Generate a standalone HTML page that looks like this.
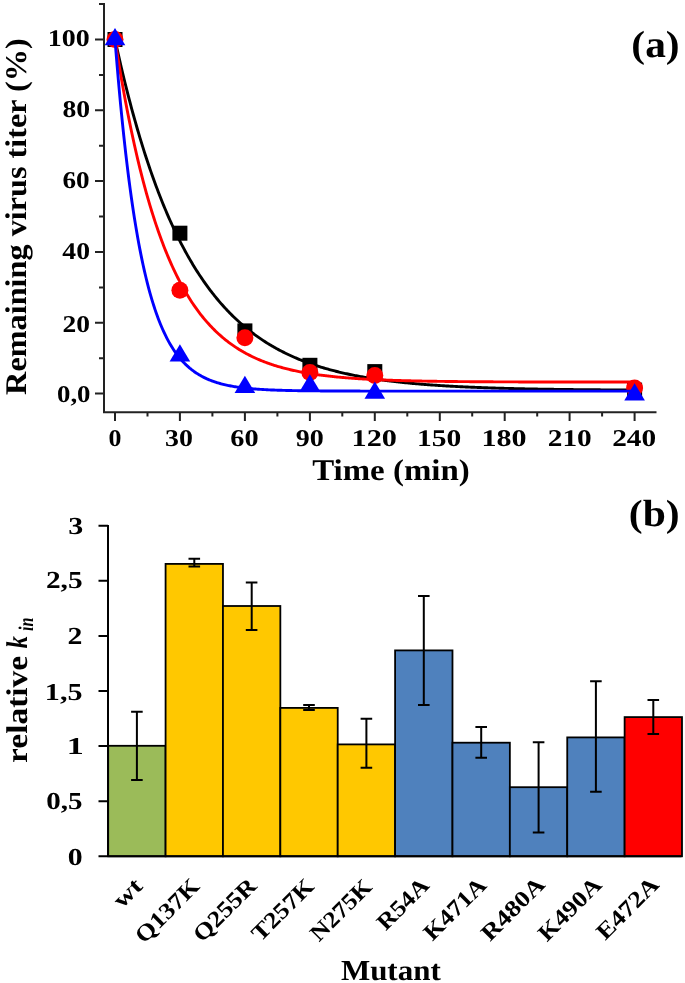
<!DOCTYPE html>
<html><head><meta charset="utf-8"><style>
html,body{margin:0;padding:0;background:#fff;}
body{width:685px;height:983px;overflow:hidden;}
svg{display:block;will-change:transform;}
text{fill:#000;text-rendering:geometricPrecision;}
</style></head><body>
<svg width="685" height="983" viewBox="0 0 685 983">
<path d="M104.0,3 V413.2 M103.0,412.2 H656.5" stroke="#222" stroke-width="2" fill="none"/>
<path d="M95,393.6 H104.0 M99,358.2 H104.0 M95,322.8 H104.0 M99,287.4 H104.0 M95,252.0 H104.0 M99,216.6 H104.0 M95,181.1 H104.0 M99,145.7 H104.0 M95,110.3 H104.0 M99,74.9 H104.0 M95,39.5 H104.0 M99,4.1 H104.0 M115.0,412.2 V421 M147.5,412.2 V416.5 M179.9,412.2 V421 M212.4,412.2 V416.5 M244.9,412.2 V421 M277.4,412.2 V416.5 M309.9,412.2 V421 M342.3,412.2 V416.5 M374.8,412.2 V421 M407.3,412.2 V416.5 M439.8,412.2 V421 M472.2,412.2 V416.5 M504.7,412.2 V421 M537.2,412.2 V416.5 M569.6,412.2 V421 M602.1,412.2 V416.5 M634.6,412.2 V421" stroke="#222" stroke-width="2" fill="none"/>
<polyline points="115.00,39.50 116.08,44.47 117.17,49.36 118.25,54.19 119.33,58.94 120.41,63.63 121.50,68.26 122.58,72.81 123.66,77.31 124.74,81.74 125.83,86.11 126.91,90.41 127.99,94.66 129.07,98.84 130.16,102.97 131.24,107.03 132.32,111.04 133.40,115.00 134.49,118.89 135.57,122.73 136.65,126.52 137.73,130.26 138.81,133.94 139.90,137.57 140.98,141.14 142.06,144.67 143.15,148.15 144.23,151.57 145.31,154.95 146.39,158.29 147.47,161.57 148.56,164.81 149.64,168.00 150.72,171.15 151.81,174.25 152.89,177.31 153.97,180.32 155.05,183.30 156.13,186.23 157.22,189.11 158.30,191.96 159.38,194.77 160.47,197.54 161.55,200.27 162.63,202.96 163.71,205.61 164.80,208.23 165.88,210.80 166.96,213.34 168.04,215.85 169.12,218.32 170.21,220.75 171.29,223.15 172.37,225.52 173.46,227.85 174.54,230.15 175.62,232.42 176.70,234.66 177.78,236.86 178.87,239.03 179.95,241.18 181.03,243.29 182.12,245.37 183.20,247.42 184.28,249.44 185.36,251.44 186.44,253.41 187.53,255.34 188.61,257.25 189.69,259.14 190.78,261.00 191.86,262.83 192.94,264.63 194.02,266.41 195.11,268.17 196.19,269.90 197.27,271.60 198.35,273.28 199.44,274.94 200.52,276.57 201.60,278.18 202.68,279.77 203.77,281.34 204.85,282.88 205.93,284.40 207.01,285.90 208.09,287.38 209.18,288.84 210.26,290.28 211.34,291.69 212.43,293.09 213.51,294.47 214.59,295.82 215.67,297.16 216.75,298.48 217.84,299.78 218.92,301.07 220.00,302.33 221.09,303.58 222.17,304.80 223.25,306.02 224.33,307.21 225.42,308.39 226.50,309.55 227.58,310.69 228.66,311.82 229.75,312.93 230.83,314.03 231.91,315.11 232.99,316.17 234.07,317.22 235.16,318.26 236.24,319.28 237.32,320.29 238.41,321.28 239.49,322.26 240.57,323.22 241.65,324.17 242.74,325.11 243.82,326.03 244.90,326.94 245.98,327.84 247.06,328.73 248.15,329.60 249.23,330.46 250.31,331.31 251.40,332.15 252.48,332.97 253.56,333.78 254.64,334.58 255.72,335.37 256.81,336.15 257.89,336.92 258.97,337.68 260.06,338.42 261.14,339.16 262.22,339.88 263.30,340.60 264.38,341.30 265.47,342.00 266.55,342.68 267.63,343.36 268.72,344.03 269.80,344.68 270.88,345.33 271.96,345.97 273.05,346.60 274.13,347.22 275.21,347.83 276.29,348.43 277.38,349.02 278.46,349.61 279.54,350.19 280.62,350.76 281.71,351.32 282.79,351.87 283.87,352.41 284.95,352.95 286.03,353.48 287.12,354.01 288.20,354.52 289.28,355.03 290.37,355.53 291.45,356.02 292.53,356.51 293.61,356.99 294.70,357.46 295.78,357.93 296.86,358.39 297.94,358.84 299.02,359.29 300.11,359.73 301.19,360.16 302.27,360.59 303.36,361.01 304.44,361.43 305.52,361.84 306.60,362.24 307.69,362.64 308.77,363.03 309.85,363.42 310.93,363.80 312.01,364.18 313.10,364.55 314.18,364.92 315.26,365.28 316.35,365.63 317.43,365.98 318.51,366.33 319.59,366.67 320.68,367.01 321.76,367.34 322.84,367.66 323.92,367.99 325.00,368.30 326.09,368.62 327.17,368.92 328.25,369.23 329.34,369.53 330.42,369.82 331.50,370.11 332.58,370.40 333.67,370.69 334.75,370.96 335.83,371.24 336.91,371.51 338.00,371.78 339.08,372.04 340.16,372.30 341.24,372.56 342.32,372.81 343.41,373.06 344.49,373.31 345.57,373.55 346.66,373.79 347.74,374.02 348.82,374.25 349.90,374.48 350.99,374.71 352.07,374.93 353.15,375.15 354.23,375.36 355.32,375.58 356.40,375.79 357.48,375.99 358.56,376.20 359.64,376.40 360.73,376.60 361.81,376.79 362.89,376.99 363.98,377.18 365.06,377.36 366.14,377.55 367.22,377.73 368.31,377.91 369.39,378.09 370.47,378.26 371.55,378.43 372.63,378.60 373.72,378.77 374.80,378.93 375.88,379.10 376.97,379.26 378.05,379.41 379.13,379.57 380.21,379.72 381.30,379.87 382.38,380.02 383.46,380.17 384.54,380.32 385.62,380.46 386.71,380.60 387.79,380.74 388.87,380.88 389.95,381.01 391.04,381.14 392.12,381.27 393.20,381.40 394.29,381.53 395.37,381.66 396.45,381.78 397.53,381.90 398.62,382.02 399.70,382.14 400.78,382.26 401.86,382.37 402.94,382.49 404.03,382.60 405.11,382.71 406.19,382.82 407.27,382.93 408.36,383.03 409.44,383.14 410.52,383.24 411.60,383.34 412.69,383.44 413.77,383.54 414.85,383.64 415.94,383.73 417.02,383.83 418.10,383.92 419.18,384.01 420.27,384.10 421.35,384.19 422.43,384.28 423.51,384.37 424.60,384.45 425.68,384.54 426.76,384.62 427.84,384.70 428.93,384.78 430.01,384.86 431.09,384.94 432.17,385.02 433.25,385.10 434.34,385.17 435.42,385.24 436.50,385.32 437.59,385.39 438.67,385.46 439.75,385.53 440.83,385.60 441.92,385.67 443.00,385.74 444.08,385.80 445.16,385.87 446.25,385.93 447.33,385.99 448.41,386.06 449.49,386.12 450.57,386.18 451.66,386.24 452.74,386.30 453.82,386.36 454.90,386.41 455.99,386.47 457.07,386.53 458.15,386.58 459.24,386.64 460.32,386.69 461.40,386.74 462.48,386.79 463.56,386.84 464.65,386.90 465.73,386.95 466.81,386.99 467.90,387.04 468.98,387.09 470.06,387.14 471.14,387.18 472.23,387.23 473.31,387.27 474.39,387.32 475.47,387.36 476.56,387.41 477.64,387.45 478.72,387.49 479.80,387.53 480.89,387.57 481.97,387.61 483.05,387.65 484.13,387.69 485.22,387.73 486.30,387.77 487.38,387.81 488.46,387.84 489.55,387.88 490.63,387.91 491.71,387.95 492.79,387.98 493.88,388.02 494.96,388.05 496.04,388.09 497.12,388.12 498.20,388.15 499.29,388.18 500.37,388.22 501.45,388.25 502.54,388.28 503.62,388.31 504.70,388.34 505.78,388.37 506.87,388.40 507.95,388.42 509.03,388.45 510.11,388.48 511.19,388.51 512.28,388.53 513.36,388.56 514.44,388.59 515.52,388.61 516.61,388.64 517.69,388.66 518.77,388.69 519.86,388.71 520.94,388.74 522.02,388.76 523.10,388.78 524.19,388.81 525.27,388.83 526.35,388.85 527.43,388.87 528.52,388.90 529.60,388.92 530.68,388.94 531.76,388.96 532.85,388.98 533.93,389.00 535.01,389.02 536.09,389.04 537.17,389.06 538.26,389.08 539.34,389.10 540.42,389.12 541.51,389.13 542.59,389.15 543.67,389.17 544.75,389.19 545.84,389.21 546.92,389.22 548.00,389.24 549.08,389.26 550.16,389.27 551.25,389.29 552.33,389.30 553.41,389.32 554.50,389.34 555.58,389.35 556.66,389.37 557.74,389.38 558.83,389.39 559.91,389.41 560.99,389.42 562.07,389.44 563.15,389.45 564.24,389.46 565.32,389.48 566.40,389.49 567.49,389.50 568.57,389.52 569.65,389.53 570.73,389.54 571.82,389.55 572.90,389.57 573.98,389.58 575.06,389.59 576.14,389.60 577.23,389.61 578.31,389.63 579.39,389.64 580.48,389.65 581.56,389.66 582.64,389.67 583.72,389.68 584.81,389.69 585.89,389.70 586.97,389.71 588.05,389.72 589.13,389.73 590.22,389.74 591.30,389.75 592.38,389.76 593.47,389.77 594.55,389.78 595.63,389.79 596.71,389.79 597.80,389.80 598.88,389.81 599.96,389.82 601.04,389.83 602.12,389.84 603.21,389.85 604.29,389.85 605.37,389.86 606.46,389.87 607.54,389.88 608.62,389.88 609.70,389.89 610.79,389.90 611.87,389.91 612.95,389.91 614.03,389.92 615.12,389.93 616.20,389.93 617.28,389.94 618.36,389.95 619.44,389.95 620.53,389.96 621.61,389.97 622.69,389.97 623.77,389.98 624.86,389.99 625.94,389.99 627.02,390.00 628.11,390.00 629.19,390.01 630.27,390.02 631.35,390.02 632.44,390.03 633.52,390.03 634.60,390.04" fill="none" stroke="#000" stroke-width="2.9" stroke-linejoin="round"/>
<rect x="107.5" y="32.0" width="15" height="15" fill="#000"/>
<rect x="172.4" y="225.7" width="15" height="15" fill="#000"/>
<rect x="237.4" y="323.4" width="15" height="15" fill="#000"/>
<rect x="302.4" y="357.8" width="15" height="15" fill="#000"/>
<rect x="367.3" y="364.1" width="15" height="15" fill="#000"/>
<rect x="627.1" y="382.6" width="15" height="15" fill="#000"/>
<polyline points="115.00,39.50 116.08,46.45 117.17,53.26 118.25,59.93 119.33,66.47 120.41,72.88 121.50,79.15 122.58,85.30 123.66,91.32 124.74,97.22 125.83,103.00 126.91,108.66 127.99,114.21 129.07,119.65 130.16,124.97 131.24,130.19 132.32,135.30 133.40,140.31 134.49,145.22 135.57,150.02 136.65,154.73 137.73,159.34 138.81,163.86 139.90,168.29 140.98,172.63 142.06,176.88 143.15,181.04 144.23,185.12 145.31,189.12 146.39,193.04 147.47,196.87 148.56,200.63 149.64,204.31 150.72,207.92 151.81,211.45 152.89,214.92 153.97,218.31 155.05,221.63 156.13,224.89 157.22,228.08 158.30,231.20 159.38,234.27 160.47,237.26 161.55,240.20 162.63,243.08 163.71,245.90 164.80,248.67 165.88,251.37 166.96,254.03 168.04,256.63 169.12,259.17 170.21,261.67 171.29,264.11 172.37,266.50 173.46,268.85 174.54,271.15 175.62,273.40 176.70,275.60 177.78,277.76 178.87,279.88 179.95,281.95 181.03,283.99 182.12,285.98 183.20,287.93 184.28,289.84 185.36,291.71 186.44,293.54 187.53,295.34 188.61,297.10 189.69,298.83 190.78,300.52 191.86,302.17 192.94,303.79 194.02,305.38 195.11,306.94 196.19,308.46 197.27,309.96 198.35,311.42 199.44,312.85 200.52,314.26 201.60,315.64 202.68,316.98 203.77,318.31 204.85,319.60 205.93,320.87 207.01,322.11 208.09,323.33 209.18,324.52 210.26,325.69 211.34,326.83 212.43,327.95 213.51,329.05 214.59,330.13 215.67,331.18 216.75,332.22 217.84,333.23 218.92,334.22 220.00,335.19 221.09,336.14 222.17,337.07 223.25,337.99 224.33,338.88 225.42,339.76 226.50,340.62 227.58,341.46 228.66,342.28 229.75,343.09 230.83,343.88 231.91,344.66 232.99,345.42 234.07,346.16 235.16,346.89 236.24,347.61 237.32,348.31 238.41,348.99 239.49,349.66 240.57,350.32 241.65,350.97 242.74,351.60 243.82,352.22 244.90,352.82 245.98,353.42 247.06,354.00 248.15,354.57 249.23,355.13 250.31,355.67 251.40,356.21 252.48,356.74 253.56,357.25 254.64,357.75 255.72,358.25 256.81,358.73 257.89,359.21 258.97,359.67 260.06,360.12 261.14,360.57 262.22,361.01 263.30,361.44 264.38,361.85 265.47,362.26 266.55,362.67 267.63,363.06 268.72,363.45 269.80,363.83 270.88,364.20 271.96,364.56 273.05,364.92 274.13,365.26 275.21,365.61 276.29,365.94 277.38,366.27 278.46,366.59 279.54,366.90 280.62,367.21 281.71,367.51 282.79,367.81 283.87,368.10 284.95,368.38 286.03,368.66 287.12,368.93 288.20,369.20 289.28,369.46 290.37,369.72 291.45,369.97 292.53,370.22 293.61,370.46 294.70,370.69 295.78,370.92 296.86,371.15 297.94,371.37 299.02,371.59 300.11,371.80 301.19,372.01 302.27,372.22 303.36,372.42 304.44,372.61 305.52,372.81 306.60,372.99 307.69,373.18 308.77,373.36 309.85,373.54 310.93,373.71 312.01,373.88 313.10,374.05 314.18,374.21 315.26,374.37 316.35,374.53 317.43,374.68 318.51,374.83 319.59,374.98 320.68,375.12 321.76,375.26 322.84,375.40 323.92,375.54 325.00,375.67 326.09,375.80 327.17,375.93 328.25,376.05 329.34,376.18 330.42,376.30 331.50,376.41 332.58,376.53 333.67,376.64 334.75,376.75 335.83,376.86 336.91,376.97 338.00,377.07 339.08,377.17 340.16,377.27 341.24,377.37 342.32,377.47 343.41,377.56 344.49,377.65 345.57,377.74 346.66,377.83 347.74,377.92 348.82,378.00 349.90,378.08 350.99,378.17 352.07,378.25 353.15,378.32 354.23,378.40 355.32,378.48 356.40,378.55 357.48,378.62 358.56,378.69 359.64,378.76 360.73,378.83 361.81,378.89 362.89,378.96 363.98,379.02 365.06,379.08 366.14,379.15 367.22,379.21 368.31,379.26 369.39,379.32 370.47,379.38 371.55,379.43 372.63,379.49 373.72,379.54 374.80,379.59 375.88,379.64 376.97,379.69 378.05,379.74 379.13,379.79 380.21,379.83 381.30,379.88 382.38,379.93 383.46,379.97 384.54,380.01 385.62,380.05 386.71,380.10 387.79,380.14 388.87,380.18 389.95,380.22 391.04,380.25 392.12,380.29 393.20,380.33 394.29,380.36 395.37,380.40 396.45,380.43 397.53,380.47 398.62,380.50 399.70,380.53 400.78,380.56 401.86,380.59 402.94,380.62 404.03,380.65 405.11,380.68 406.19,380.71 407.27,380.74 408.36,380.77 409.44,380.79 410.52,380.82 411.60,380.85 412.69,380.87 413.77,380.90 414.85,380.92 415.94,380.94 417.02,380.97 418.10,380.99 419.18,381.01 420.27,381.03 421.35,381.06 422.43,381.08 423.51,381.10 424.60,381.12 425.68,381.14 426.76,381.16 427.84,381.18 428.93,381.19 430.01,381.21 431.09,381.23 432.17,381.25 433.25,381.27 434.34,381.28 435.42,381.30 436.50,381.31 437.59,381.33 438.67,381.35 439.75,381.36 440.83,381.38 441.92,381.39 443.00,381.40 444.08,381.42 445.16,381.43 446.25,381.45 447.33,381.46 448.41,381.47 449.49,381.48 450.57,381.50 451.66,381.51 452.74,381.52 453.82,381.53 454.90,381.54 455.99,381.55 457.07,381.57 458.15,381.58 459.24,381.59 460.32,381.60 461.40,381.61 462.48,381.62 463.56,381.63 464.65,381.64 465.73,381.64 466.81,381.65 467.90,381.66 468.98,381.67 470.06,381.68 471.14,381.69 472.23,381.70 473.31,381.70 474.39,381.71 475.47,381.72 476.56,381.73 477.64,381.74 478.72,381.74 479.80,381.75 480.89,381.76 481.97,381.76 483.05,381.77 484.13,381.78 485.22,381.78 486.30,381.79 487.38,381.80 488.46,381.80 489.55,381.81 490.63,381.81 491.71,381.82 492.79,381.82 493.88,381.83 494.96,381.83 496.04,381.84 497.12,381.85 498.20,381.85 499.29,381.86 500.37,381.86 501.45,381.86 502.54,381.87 503.62,381.87 504.70,381.88 505.78,381.88 506.87,381.89 507.95,381.89 509.03,381.89 510.11,381.90 511.19,381.90 512.28,381.91 513.36,381.91 514.44,381.91 515.52,381.92 516.61,381.92 517.69,381.92 518.77,381.93 519.86,381.93 520.94,381.93 522.02,381.94 523.10,381.94 524.19,381.94 525.27,381.95 526.35,381.95 527.43,381.95 528.52,381.96 529.60,381.96 530.68,381.96 531.76,381.96 532.85,381.97 533.93,381.97 535.01,381.97 536.09,381.97 537.17,381.98 538.26,381.98 539.34,381.98 540.42,381.98 541.51,381.99 542.59,381.99 543.67,381.99 544.75,381.99 545.84,381.99 546.92,382.00 548.00,382.00 549.08,382.00 550.16,382.00 551.25,382.00 552.33,382.01 553.41,382.01 554.50,382.01 555.58,382.01 556.66,382.01 557.74,382.01 558.83,382.02 559.91,382.02 560.99,382.02 562.07,382.02 563.15,382.02 564.24,382.02 565.32,382.02 566.40,382.03 567.49,382.03 568.57,382.03 569.65,382.03 570.73,382.03 571.82,382.03 572.90,382.03 573.98,382.03 575.06,382.04 576.14,382.04 577.23,382.04 578.31,382.04 579.39,382.04 580.48,382.04 581.56,382.04 582.64,382.04 583.72,382.04 584.81,382.04 585.89,382.05 586.97,382.05 588.05,382.05 589.13,382.05 590.22,382.05 591.30,382.05 592.38,382.05 593.47,382.05 594.55,382.05 595.63,382.05 596.71,382.05 597.80,382.06 598.88,382.06 599.96,382.06 601.04,382.06 602.12,382.06 603.21,382.06 604.29,382.06 605.37,382.06 606.46,382.06 607.54,382.06 608.62,382.06 609.70,382.06 610.79,382.06 611.87,382.06 612.95,382.06 614.03,382.06 615.12,382.07 616.20,382.07 617.28,382.07 618.36,382.07 619.44,382.07 620.53,382.07 621.61,382.07 622.69,382.07 623.77,382.07 624.86,382.07 625.94,382.07 627.02,382.07 628.11,382.07 629.19,382.07 630.27,382.07 631.35,382.07 632.44,382.07 633.52,382.07 634.60,382.07" fill="none" stroke="#f00" stroke-width="2.9" stroke-linejoin="round"/>
<circle cx="115.0" cy="39.5" r="8.5" fill="#f00"/>
<circle cx="179.9" cy="290.2" r="8.5" fill="#f00"/>
<circle cx="244.9" cy="337.7" r="8.5" fill="#f00"/>
<circle cx="309.9" cy="372.4" r="8.5" fill="#f00"/>
<circle cx="374.8" cy="375.5" r="8.5" fill="#f00"/>
<circle cx="634.6" cy="387.9" r="8.5" fill="#f00"/>
<polyline points="115.00,39.50 116.08,53.12 117.17,66.21 118.25,78.79 119.33,90.89 120.41,102.52 121.50,113.70 122.58,124.44 123.66,134.77 124.74,144.70 125.83,154.24 126.91,163.42 127.99,172.23 129.07,180.71 130.16,188.86 131.24,196.69 132.32,204.22 133.40,211.46 134.49,218.42 135.57,225.11 136.65,231.54 137.73,237.72 138.81,243.66 139.90,249.37 140.98,254.86 142.06,260.14 143.15,265.21 144.23,270.09 145.31,274.78 146.39,279.28 147.47,283.61 148.56,287.78 149.64,291.78 150.72,295.63 151.81,299.33 152.89,302.88 153.97,306.30 155.05,309.58 156.13,312.74 157.22,315.78 158.30,318.70 159.38,321.50 160.47,324.20 161.55,326.79 162.63,329.28 163.71,331.68 164.80,333.98 165.88,336.19 166.96,338.32 168.04,340.36 169.12,342.33 170.21,344.22 171.29,346.04 172.37,347.78 173.46,349.46 174.54,351.07 175.62,352.63 176.70,354.12 177.78,355.55 178.87,356.93 179.95,358.25 181.03,359.52 182.12,360.75 183.20,361.92 184.28,363.06 185.36,364.14 186.44,365.19 187.53,366.19 188.61,367.16 189.69,368.09 190.78,368.98 191.86,369.84 192.94,370.66 194.02,371.45 195.11,372.21 196.19,372.95 197.27,373.65 198.35,374.33 199.44,374.98 200.52,375.60 201.60,376.20 202.68,376.78 203.77,377.34 204.85,377.87 205.93,378.38 207.01,378.88 208.09,379.35 209.18,379.81 210.26,380.25 211.34,380.67 212.43,381.07 213.51,381.46 214.59,381.83 215.67,382.19 216.75,382.54 217.84,382.87 218.92,383.19 220.00,383.50 221.09,383.79 222.17,384.08 223.25,384.35 224.33,384.61 225.42,384.87 226.50,385.11 227.58,385.34 228.66,385.56 229.75,385.78 230.83,385.99 231.91,386.19 232.99,386.38 234.07,386.56 235.16,386.74 236.24,386.91 237.32,387.07 238.41,387.23 239.49,387.38 240.57,387.52 241.65,387.66 242.74,387.80 243.82,387.92 244.90,388.05 245.98,388.17 247.06,388.28 248.15,388.39 249.23,388.50 250.31,388.60 251.40,388.70 252.48,388.79 253.56,388.88 254.64,388.97 255.72,389.05 256.81,389.13 257.89,389.21 258.97,389.28 260.06,389.35 261.14,389.42 262.22,389.49 263.30,389.55 264.38,389.61 265.47,389.67 266.55,389.73 267.63,389.78 268.72,389.83 269.80,389.88 270.88,389.93 271.96,389.98 273.05,390.02 274.13,390.06 275.21,390.10 276.29,390.14 277.38,390.18 278.46,390.22 279.54,390.25 280.62,390.29 281.71,390.32 282.79,390.35 283.87,390.38 284.95,390.41 286.03,390.44 287.12,390.46 288.20,390.49 289.28,390.51 290.37,390.54 291.45,390.56 292.53,390.58 293.61,390.60 294.70,390.62 295.78,390.64 296.86,390.66 297.94,390.68 299.02,390.69 300.11,390.71 301.19,390.73 302.27,390.74 303.36,390.76 304.44,390.77 305.52,390.78 306.60,390.80 307.69,390.81 308.77,390.82 309.85,390.83 310.93,390.85 312.01,390.86 313.10,390.87 314.18,390.88 315.26,390.89 316.35,390.89 317.43,390.90 318.51,390.91 319.59,390.92 320.68,390.93 321.76,390.94 322.84,390.94 323.92,390.95 325.00,390.96 326.09,390.96 327.17,390.97 328.25,390.97 329.34,390.98 330.42,390.99 331.50,390.99 332.58,391.00 333.67,391.00 334.75,391.01 335.83,391.01 336.91,391.01 338.00,391.02 339.08,391.02 340.16,391.03 341.24,391.03 342.32,391.03 343.41,391.04 344.49,391.04 345.57,391.04 346.66,391.05 347.74,391.05 348.82,391.05 349.90,391.05 350.99,391.06 352.07,391.06 353.15,391.06 354.23,391.06 355.32,391.07 356.40,391.07 357.48,391.07 358.56,391.07 359.64,391.07 360.73,391.08 361.81,391.08 362.89,391.08 363.98,391.08 365.06,391.08 366.14,391.08 367.22,391.09 368.31,391.09 369.39,391.09 370.47,391.09 371.55,391.09 372.63,391.09 373.72,391.09 374.80,391.09 375.88,391.10 376.97,391.10 378.05,391.10 379.13,391.10 380.21,391.10 381.30,391.10 382.38,391.10 383.46,391.10 384.54,391.10 385.62,391.10 386.71,391.10 387.79,391.10 388.87,391.11 389.95,391.11 391.04,391.11 392.12,391.11 393.20,391.11 394.29,391.11 395.37,391.11 396.45,391.11 397.53,391.11 398.62,391.11 399.70,391.11 400.78,391.11 401.86,391.11 402.94,391.11 404.03,391.11 405.11,391.11 406.19,391.11 407.27,391.11 408.36,391.11 409.44,391.11 410.52,391.11 411.60,391.11 412.69,391.11 413.77,391.11 414.85,391.12 415.94,391.12 417.02,391.12 418.10,391.12 419.18,391.12 420.27,391.12 421.35,391.12 422.43,391.12 423.51,391.12 424.60,391.12 425.68,391.12 426.76,391.12 427.84,391.12 428.93,391.12 430.01,391.12 431.09,391.12 432.17,391.12 433.25,391.12 434.34,391.12 435.42,391.12 436.50,391.12 437.59,391.12 438.67,391.12 439.75,391.12 440.83,391.12 441.92,391.12 443.00,391.12 444.08,391.12 445.16,391.12 446.25,391.12 447.33,391.12 448.41,391.12 449.49,391.12 450.57,391.12 451.66,391.12 452.74,391.12 453.82,391.12 454.90,391.12 455.99,391.12 457.07,391.12 458.15,391.12 459.24,391.12 460.32,391.12 461.40,391.12 462.48,391.12 463.56,391.12 464.65,391.12 465.73,391.12 466.81,391.12 467.90,391.12 468.98,391.12 470.06,391.12 471.14,391.12 472.23,391.12 473.31,391.12 474.39,391.12 475.47,391.12 476.56,391.12 477.64,391.12 478.72,391.12 479.80,391.12 480.89,391.12 481.97,391.12 483.05,391.12 484.13,391.12 485.22,391.12 486.30,391.12 487.38,391.12 488.46,391.12 489.55,391.12 490.63,391.12 491.71,391.12 492.79,391.12 493.88,391.12 494.96,391.12 496.04,391.12 497.12,391.12 498.20,391.12 499.29,391.12 500.37,391.12 501.45,391.12 502.54,391.12 503.62,391.12 504.70,391.12 505.78,391.12 506.87,391.12 507.95,391.12 509.03,391.12 510.11,391.12 511.19,391.12 512.28,391.12 513.36,391.12 514.44,391.12 515.52,391.12 516.61,391.12 517.69,391.12 518.77,391.12 519.86,391.12 520.94,391.12 522.02,391.12 523.10,391.12 524.19,391.12 525.27,391.12 526.35,391.12 527.43,391.12 528.52,391.12 529.60,391.12 530.68,391.12 531.76,391.12 532.85,391.12 533.93,391.12 535.01,391.12 536.09,391.12 537.17,391.12 538.26,391.12 539.34,391.12 540.42,391.12 541.51,391.12 542.59,391.12 543.67,391.12 544.75,391.12 545.84,391.12 546.92,391.12 548.00,391.12 549.08,391.12 550.16,391.12 551.25,391.12 552.33,391.12 553.41,391.12 554.50,391.12 555.58,391.12 556.66,391.12 557.74,391.12 558.83,391.12 559.91,391.12 560.99,391.12 562.07,391.12 563.15,391.12 564.24,391.12 565.32,391.12 566.40,391.12 567.49,391.12 568.57,391.12 569.65,391.12 570.73,391.12 571.82,391.12 572.90,391.12 573.98,391.12 575.06,391.12 576.14,391.12 577.23,391.12 578.31,391.12 579.39,391.12 580.48,391.12 581.56,391.12 582.64,391.12 583.72,391.12 584.81,391.12 585.89,391.12 586.97,391.12 588.05,391.12 589.13,391.12 590.22,391.12 591.30,391.12 592.38,391.12 593.47,391.12 594.55,391.12 595.63,391.12 596.71,391.12 597.80,391.12 598.88,391.12 599.96,391.12 601.04,391.12 602.12,391.12 603.21,391.12 604.29,391.12 605.37,391.12 606.46,391.12 607.54,391.12 608.62,391.12 609.70,391.12 610.79,391.12 611.87,391.12 612.95,391.12 614.03,391.12 615.12,391.12 616.20,391.12 617.28,391.12 618.36,391.12 619.44,391.12 620.53,391.12 621.61,391.12 622.69,391.12 623.77,391.12 624.86,391.12 625.94,391.12 627.02,391.12 628.11,391.12 629.19,391.12 630.27,391.12 631.35,391.12 632.44,391.12 633.52,391.12 634.60,391.12" fill="none" stroke="#00f" stroke-width="2.9" stroke-linejoin="round"/>
<path d="M115.0,28.0 L125.3,45.3 L104.7,45.3Z" fill="#00f"/>
<path d="M179.9,344.2 L190.2,361.5 L169.6,361.5Z" fill="#00f"/>
<path d="M244.9,375.7 L255.2,393.0 L234.6,393.0Z" fill="#00f"/>
<path d="M309.9,374.3 L320.2,391.6 L299.6,391.6Z" fill="#00f"/>
<path d="M374.8,381.4 L385.1,398.7 L364.5,398.7Z" fill="#00f"/>
<path d="M634.6,383.2 L644.9,400.5 L624.3,400.5Z" fill="#00f"/>
<rect x="108.20" y="745.8" width="57.38" height="110.5" fill="#9BBB59" stroke="#000" stroke-width="1.8"/>
<rect x="165.58" y="563.9" width="57.38" height="292.4" fill="#FFC800" stroke="#000" stroke-width="1.8"/>
<rect x="222.96" y="606.0" width="57.38" height="250.3" fill="#FFC800" stroke="#000" stroke-width="1.8"/>
<rect x="280.34" y="707.9" width="57.38" height="148.4" fill="#FFC800" stroke="#000" stroke-width="1.8"/>
<rect x="337.72" y="744.4" width="57.38" height="111.9" fill="#FFC800" stroke="#000" stroke-width="1.8"/>
<rect x="395.10" y="650.4" width="57.38" height="205.9" fill="#4F81BD" stroke="#000" stroke-width="1.8"/>
<rect x="452.48" y="742.7" width="57.38" height="113.6" fill="#4F81BD" stroke="#000" stroke-width="1.8"/>
<rect x="509.86" y="787.2" width="57.38" height="69.1" fill="#4F81BD" stroke="#000" stroke-width="1.8"/>
<rect x="567.24" y="737.4" width="57.38" height="118.9" fill="#4F81BD" stroke="#000" stroke-width="1.8"/>
<rect x="624.62" y="717.1" width="57.38" height="139.2" fill="#FF0000" stroke="#000" stroke-width="1.8"/>
<path d="M136.9,711.7 V779.9 M131.1,711.7 h11.6 M131.1,779.9 h11.6" stroke="#000" stroke-width="2" fill="none"/>
<path d="M194.3,558.8 V566.6 M188.5,558.8 h11.6 M188.5,566.6 h11.6" stroke="#000" stroke-width="2" fill="none"/>
<path d="M251.7,582.5 V629.9 M245.8,582.5 h11.6 M245.8,629.9 h11.6" stroke="#000" stroke-width="2" fill="none"/>
<path d="M309.0,705.0 V709.9 M303.2,705.0 h11.6 M303.2,709.9 h11.6" stroke="#000" stroke-width="2" fill="none"/>
<path d="M366.4,718.7 V767.7 M360.6,718.7 h11.6 M360.6,767.7 h11.6" stroke="#000" stroke-width="2" fill="none"/>
<path d="M423.8,596.0 V705.0 M418.0,596.0 h11.6 M418.0,705.0 h11.6" stroke="#000" stroke-width="2" fill="none"/>
<path d="M481.2,726.9 V757.7 M475.4,726.9 h11.6 M475.4,757.7 h11.6" stroke="#000" stroke-width="2" fill="none"/>
<path d="M538.6,742.3 V832.4 M532.8,742.3 h11.6 M532.8,832.4 h11.6" stroke="#000" stroke-width="2" fill="none"/>
<path d="M595.9,681.3 V791.7 M590.1,681.3 h11.6 M590.1,791.7 h11.6" stroke="#000" stroke-width="2" fill="none"/>
<path d="M653.3,699.9 V733.9 M647.5,699.9 h11.6 M647.5,733.9 h11.6" stroke="#000" stroke-width="2" fill="none"/>
<path d="M108,525 V857.3 M107,856.3 H681.5 M98.5,856.3 H108 M98.5,801.2 H108 M98.5,746.1 H108 M98.5,691.0 H108 M98.5,635.9 H108 M98.5,580.8 H108 M98.5,525.7 H108" stroke="#000" stroke-width="2" fill="none"/>
<text transform="translate(89.63,45.60) scale(1.1632,1)" font-family="Liberation Serif" font-weight="bold" font-size="24.00" text-anchor="end">100</text>
<text transform="translate(90.04,116.82) scale(1.1505,1)" font-family="Liberation Serif" font-weight="bold" font-size="24.00" text-anchor="end">80</text>
<text transform="translate(89.57,188.04) scale(1.1304,1)" font-family="Liberation Serif" font-weight="bold" font-size="24.00" text-anchor="end">60</text>
<text transform="translate(90.02,259.46) scale(1.1522,1)" font-family="Liberation Serif" font-weight="bold" font-size="24.00" text-anchor="end">40</text>
<text transform="translate(90.04,331.68) scale(1.1446,1)" font-family="Liberation Serif" font-weight="bold" font-size="24.00" text-anchor="end">20</text>
<text transform="translate(90.43,401.90) scale(1.1139,1)" font-family="Liberation Serif" font-weight="bold" font-size="24.00" text-anchor="end">0,0</text>
<text transform="translate(115.06,446.10) scale(1.0772,1)" font-family="Liberation Serif" font-weight="bold" font-size="24.00" text-anchor="middle">0</text>
<text transform="translate(179.03,446.10) scale(1.1601,1)" font-family="Liberation Serif" font-weight="bold" font-size="24.00" text-anchor="middle">30</text>
<text transform="translate(244.50,446.10) scale(1.1778,1)" font-family="Liberation Serif" font-weight="bold" font-size="24.00" text-anchor="middle">60</text>
<text transform="translate(309.83,446.10) scale(1.1680,1)" font-family="Liberation Serif" font-weight="bold" font-size="24.00" text-anchor="middle">90</text>
<text transform="translate(374.22,446.10) scale(1.2587,1)" font-family="Liberation Serif" font-weight="bold" font-size="24.00" text-anchor="middle">120</text>
<text transform="translate(439.01,446.10) scale(1.2287,1)" font-family="Liberation Serif" font-weight="bold" font-size="24.00" text-anchor="middle">150</text>
<text transform="translate(503.89,446.10) scale(1.2507,1)" font-family="Liberation Serif" font-weight="bold" font-size="24.00" text-anchor="middle">180</text>
<text transform="translate(569.70,446.10) scale(1.2206,1)" font-family="Liberation Serif" font-weight="bold" font-size="24.00" text-anchor="middle">210</text>
<text transform="translate(634.16,446.10) scale(1.2195,1)" font-family="Liberation Serif" font-weight="bold" font-size="24.00" text-anchor="middle">240</text>
<text transform="translate(312.18,479.80) scale(1.0973,1)" font-family="Liberation Serif" font-weight="bold" font-size="30.00" text-anchor="start">Time (min)</text>
<text transform="translate(26.00,394.88) rotate(-90) scale(1.0746,1)" font-family="Liberation Serif" font-weight="bold" font-size="30.00" text-anchor="start">Remaining virus titer (%)</text>
<text transform="translate(631.36,56.80) scale(1.0898,1)" font-family="Liberation Serif" font-weight="bold" font-size="38.00" text-anchor="start">(a)</text>
<text transform="translate(82.56,864.60) scale(1.2213,1)" font-family="Liberation Serif" font-weight="bold" font-size="24.40" text-anchor="end">0</text>
<text transform="translate(82.42,809.10) scale(1.1899,1)" font-family="Liberation Serif" font-weight="bold" font-size="24.40" text-anchor="end">0,5</text>
<text transform="translate(83.72,753.60) scale(1.3943,1)" font-family="Liberation Serif" font-weight="bold" font-size="24.40" text-anchor="end">1</text>
<text transform="translate(82.48,700.30) scale(1.2335,1)" font-family="Liberation Serif" font-weight="bold" font-size="24.40" text-anchor="end">1,5</text>
<text transform="translate(82.40,643.80) scale(1.2213,1)" font-family="Liberation Serif" font-weight="bold" font-size="24.40" text-anchor="end">2</text>
<text transform="translate(82.63,588.30) scale(1.2045,1)" font-family="Liberation Serif" font-weight="bold" font-size="24.40" text-anchor="end">2,5</text>
<text transform="translate(83.18,534.00) scale(1.2294,1)" font-family="Liberation Serif" font-weight="bold" font-size="24.40" text-anchor="end">3</text>
<text transform="translate(143.80,887.37) rotate(-45) scale(1.2707,1)" font-family="Liberation Serif" font-weight="bold" font-size="23.00" text-anchor="end">wt</text>
<text transform="translate(200.81,887.61) rotate(-45) scale(1.1448,1)" font-family="Liberation Serif" font-weight="bold" font-size="23.00" text-anchor="end">Q137K</text>
<text transform="translate(257.94,887.14) rotate(-45) scale(1.1487,1)" font-family="Liberation Serif" font-weight="bold" font-size="23.00" text-anchor="end">Q255R</text>
<text transform="translate(315.20,887.72) rotate(-45) scale(1.1439,1)" font-family="Liberation Serif" font-weight="bold" font-size="23.00" text-anchor="end">T257K</text>
<text transform="translate(373.38,888.10) rotate(-45) scale(1.1135,1)" font-family="Liberation Serif" font-weight="bold" font-size="23.00" text-anchor="end">N275K</text>
<text transform="translate(430.56,886.66) rotate(-45) scale(1.1298,1)" font-family="Liberation Serif" font-weight="bold" font-size="23.00" text-anchor="end">R54A</text>
<text transform="translate(487.77,886.61) rotate(-45) scale(1.1321,1)" font-family="Liberation Serif" font-weight="bold" font-size="23.00" text-anchor="end">K471A</text>
<text transform="translate(546.19,885.93) rotate(-45) scale(1.1745,1)" font-family="Liberation Serif" font-weight="bold" font-size="23.00" text-anchor="end">R480A</text>
<text transform="translate(603.08,886.30) rotate(-45) scale(1.1503,1)" font-family="Liberation Serif" font-weight="bold" font-size="23.00" text-anchor="end">K490A</text>
<text transform="translate(660.32,886.11) rotate(-45) scale(1.1701,1)" font-family="Liberation Serif" font-weight="bold" font-size="23.00" text-anchor="end">E472A</text>
<text transform="translate(340.90,979.80) scale(1.0680,1)" font-family="Liberation Serif" font-weight="bold" font-size="29.00" text-anchor="start">Mutant</text>
<text transform="translate(27.20,762.94) rotate(-90) scale(1.1146,1)" font-family="Liberation Serif" font-weight="bold" font-size="30.00" text-anchor="start">relative</text>
<text transform="translate(26.60,648.28) rotate(-90) scale(0.8096,1)" font-family="Liberation Serif" font-weight="bold" font-style="italic" font-size="30.00" text-anchor="start">k</text>
<text transform="translate(32.80,630.89) rotate(-90) scale(0.7629,1)" font-family="Liberation Serif" font-weight="bold" font-style="italic" font-size="21.00" text-anchor="start">in</text>
<text transform="translate(628.81,525.80) scale(1.0944,1)" font-family="Liberation Serif" font-weight="bold" font-size="38.00" text-anchor="start">(b)</text>
</svg>
</body></html>
